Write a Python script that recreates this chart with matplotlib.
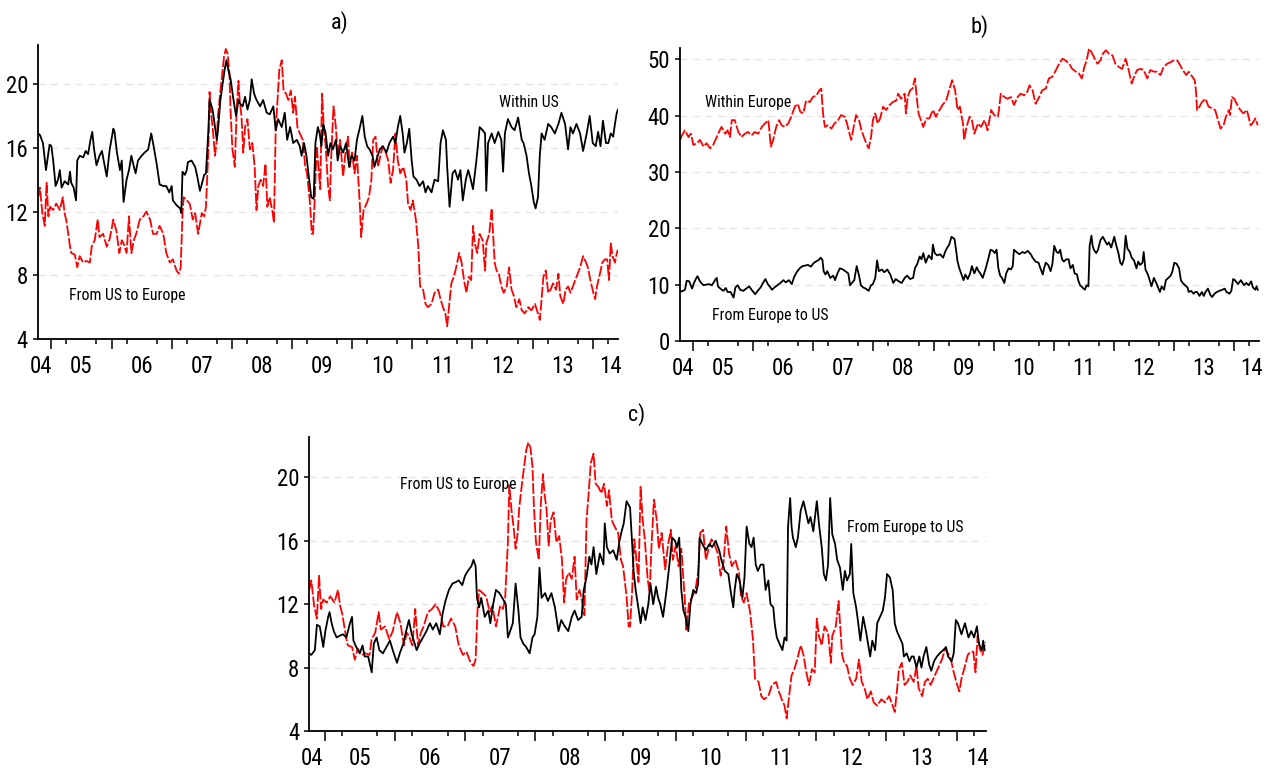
import matplotlib
matplotlib.use("Agg")
import matplotlib.pyplot as plt
from matplotlib import font_manager

# ---- data (decimal year, value) ----
# a) black: within US
wus_t = [2004.78, 2004.81, 2004.86, 2004.91, 2004.95, 2004.97, 2005.00, 2005.03, 2005.07, 2005.11,
         2005.14, 2005.17, 2005.22, 2005.28, 2005.31, 2005.33, 2005.37, 2005.41, 2005.43, 2005.47,
         2005.53, 2005.57, 2005.61, 2005.65, 2005.68, 2005.71, 2005.75, 2005.80, 2005.84, 2005.89,
         2005.92, 2005.97, 2006.03, 2006.05, 2006.09, 2006.14, 2006.17, 2006.20, 2006.25, 2006.29,
         2006.33, 2006.36, 2006.40, 2006.44, 2006.50, 2006.55, 2006.61, 2006.66, 2006.70, 2006.75,
         2006.80, 2006.86, 2006.91, 2006.96, 2007.00, 2007.02, 2007.08, 2007.14, 2007.16, 2007.18,
         2007.22, 2007.25, 2007.27, 2007.33, 2007.39, 2007.42, 2007.47, 2007.50, 2007.54, 2007.57,
         2007.61, 2007.63, 2007.68, 2007.72, 2007.75, 2007.77, 2007.81, 2007.85, 2007.88, 2007.91,
         2007.94, 2007.98, 2008.02, 2008.07, 2008.11, 2008.13, 2008.18, 2008.22, 2008.26, 2008.30,
         2008.33, 2008.37, 2008.41, 2008.47, 2008.52, 2008.58, 2008.63, 2008.69, 2008.73, 2008.77,
         2008.83, 2008.88, 2008.92, 2008.97, 2009.02, 2009.08, 2009.13, 2009.16, 2009.20, 2009.24,
         2009.32, 2009.36, 2009.39, 2009.43, 2009.46, 2009.49, 2009.52, 2009.56, 2009.60, 2009.64,
         2009.68, 2009.73, 2009.76, 2009.80, 2009.85, 2009.90, 2009.95, 2009.99, 2010.04, 2010.08,
         2010.13, 2010.17, 2010.21, 2010.25, 2010.29, 2010.34, 2010.37, 2010.40, 2010.46, 2010.51,
         2010.57, 2010.62, 2010.68, 2010.72, 2010.76, 2010.80, 2010.84, 2010.87, 2010.91, 2010.95,
         2010.99, 2011.02, 2011.07, 2011.12, 2011.18, 2011.22, 2011.26, 2011.32, 2011.37, 2011.43,
         2011.47, 2011.51, 2011.56, 2011.58, 2011.62, 2011.67, 2011.71, 2011.76, 2011.80, 2011.84,
         2011.89, 2011.93, 2011.96, 2012.01, 2012.06, 2012.09, 2012.12, 2012.17, 2012.21, 2012.23,
         2012.26, 2012.32, 2012.37, 2012.43, 2012.48, 2012.51, 2012.54, 2012.59, 2012.65, 2012.70,
         2012.76, 2012.82, 2012.85, 2012.90, 2012.94, 2012.98, 2013.02, 2013.05, 2013.09, 2013.12,
         2013.15, 2013.20, 2013.26, 2013.31, 2013.37, 2013.43, 2013.48, 2013.54, 2013.59, 2013.63,
         2013.67, 2013.73, 2013.79, 2013.84, 2013.90, 2013.95, 2014.00, 2014.05, 2014.09, 2014.13,
         2014.17, 2014.22, 2014.26, 2014.30, 2014.34, 2014.37, 2014.40, 2014.42]
wus_v = [16.9, 16.8, 16.3, 14.6, 15.7, 16.2, 16.1, 15.2, 13.6, 14.0,
         14.6, 13.5, 13.9, 13.7, 14.5, 13.8, 13.5, 12.7, 15.2, 15.5,
         15.4, 15.8, 15.6, 16.5, 17.0, 15.9, 14.9, 15.5, 15.8, 14.8,
         14.2, 15.9, 17.2, 17.0, 15.7, 14.6, 15.2, 12.6, 14.0, 14.6,
         15.5, 15.0, 14.4, 15.2, 15.5, 15.7, 15.9, 16.9, 16.1, 15.0,
         13.7, 13.6, 13.6, 13.2, 13.6, 12.7, 12.4, 12.2, 11.9, 14.5,
         14.3, 14.6, 15.1, 15.2, 14.8, 14.3, 13.3, 13.7, 14.3, 14.4,
         17.1, 19.0, 18.4, 17.3, 16.5, 17.1, 19.0, 20.1, 20.9, 21.5,
         20.9, 20.3, 19.2, 18.0, 19.0, 18.8, 18.6, 19.2, 18.4, 19.0,
         20.3, 19.4, 19.0, 18.6, 19.0, 18.2, 18.1, 18.6, 17.1, 17.8,
         17.3, 18.2, 16.5, 17.3, 16.3, 16.5, 16.1, 15.5, 16.3, 15.5,
         12.9, 12.8, 16.3, 17.3, 16.9, 16.1, 17.5, 16.9, 15.5, 16.3,
         15.9, 16.5, 15.2, 16.1, 15.7, 16.3, 14.8, 15.5, 15.2, 16.5,
         17.3, 18.0, 16.7, 16.1, 15.9, 15.5, 14.8, 15.2, 15.9, 16.1,
         15.7, 16.3, 16.7, 16.3, 17.3, 18.0, 16.9, 15.7, 16.3, 17.2,
         15.2, 14.2, 14.0, 13.6, 13.9, 13.2, 13.6, 13.2, 14.0, 13.9,
         16.3, 17.1, 16.5, 14.8, 12.3, 14.4, 14.6, 14.0, 14.6, 12.7,
         14.0, 14.6, 14.2, 13.4, 15.0, 16.1, 17.3, 17.1, 16.9, 13.3,
         16.3, 16.9, 16.3, 17.0, 16.5, 14.5, 16.9, 17.8, 17.3, 17.1,
         17.9, 16.5, 16.3, 15.5, 14.4, 13.6, 12.6, 12.2, 12.9, 15.5,
         16.9, 16.5, 17.5, 17.3, 16.9, 17.5, 18.2, 17.5, 15.9, 17.3,
         16.9, 17.5, 16.9, 15.8, 16.9, 18.0, 16.3, 16.1, 17.0, 16.1,
         17.7, 16.3, 16.3, 16.9, 16.7, 17.5, 18.2, 18.4]

# a) red, c) red: from US to Europe
use_t = [2004.78, 2004.81, 2004.85, 2004.89, 2004.92, 2004.95, 2004.98, 2005.03, 2005.08, 2005.14,
         2005.19, 2005.22, 2005.25, 2005.28, 2005.31, 2005.33, 2005.39, 2005.43, 2005.47, 2005.53,
         2005.58, 2005.64, 2005.67, 2005.72, 2005.77, 2005.80, 2005.86, 2005.92, 2005.97, 2006.03,
         2006.08, 2006.13, 2006.17, 2006.20, 2006.25, 2006.29, 2006.33, 2006.37, 2006.41, 2006.47,
         2006.53, 2006.58, 2006.64, 2006.69, 2006.75, 2006.80, 2006.86, 2006.91, 2006.97, 2007.02,
         2007.08, 2007.12, 2007.15, 2007.18, 2007.20, 2007.25, 2007.30, 2007.35, 2007.39, 2007.44,
         2007.50, 2007.54, 2007.57, 2007.61, 2007.63, 2007.66, 2007.69, 2007.72, 2007.75, 2007.77,
         2007.80, 2007.83, 2007.87, 2007.90, 2007.93, 2007.96, 2007.98, 2008.01, 2008.05, 2008.08,
         2008.11, 2008.13, 2008.16, 2008.19, 2008.22, 2008.26, 2008.30, 2008.34, 2008.38, 2008.41,
         2008.44, 2008.48, 2008.52, 2008.56, 2008.59, 2008.63, 2008.68, 2008.70, 2008.73, 2008.76,
         2008.79, 2008.83, 2008.86, 2008.90, 2008.94, 2008.98, 2009.02, 2009.05, 2009.09, 2009.13,
         2009.18, 2009.22, 2009.25, 2009.30, 2009.33, 2009.35, 2009.38, 2009.41, 2009.45, 2009.47,
         2009.50, 2009.53, 2009.56, 2009.60, 2009.63, 2009.65, 2009.69, 2009.73, 2009.76, 2009.80,
         2009.85, 2009.89, 2009.93, 2009.96, 2010.00, 2010.04, 2010.08, 2010.13, 2010.15, 2010.19,
         2010.24, 2010.28, 2010.32, 2010.35, 2010.39, 2010.43, 2010.47, 2010.51, 2010.56, 2010.60,
         2010.64, 2010.68, 2010.72, 2010.76, 2010.80, 2010.85, 2010.90, 2010.93, 2010.97, 2011.01,
         2011.06, 2011.10, 2011.13, 2011.18, 2011.22, 2011.26, 2011.32, 2011.37, 2011.43, 2011.47,
         2011.51, 2011.55, 2011.58, 2011.61, 2011.65, 2011.69, 2011.73, 2011.78, 2011.82, 2011.86,
         2011.90, 2011.94, 2011.98, 2012.01, 2012.04, 2012.08, 2012.12, 2012.17, 2012.21, 2012.23,
         2012.28, 2012.32, 2012.34, 2012.37, 2012.40, 2012.44, 2012.48, 2012.52, 2012.57, 2012.61,
         2012.65, 2012.69, 2012.73, 2012.78, 2012.82, 2012.87, 2012.93, 2012.98, 2013.04, 2013.09,
         2013.12, 2013.15, 2013.18, 2013.22, 2013.26, 2013.30, 2013.34, 2013.39, 2013.43, 2013.46,
         2013.51, 2013.55, 2013.59, 2013.63, 2013.67, 2013.73, 2013.79, 2013.84, 2013.89, 2013.92,
         2013.96, 2014.01, 2014.04, 2014.07, 2014.12, 2014.16, 2014.20, 2014.24, 2014.27, 2014.30,
         2014.33, 2014.37, 2014.40, 2014.42]
use_v = [12.9, 13.5, 11.9, 11.1, 13.8, 11.7, 12.3, 12.1, 12.5, 12.1,
         12.9, 11.9, 11.4, 10.6, 9.8, 9.4, 9.3, 8.5, 9.2, 8.8,
         8.9, 8.8, 9.8, 10.2, 11.5, 10.4, 10.6, 9.8, 10.3, 11.5,
         10.8, 9.4, 10.2, 10.0, 9.4, 11.7, 9.4, 10.2, 10.6, 11.5,
         11.7, 12.0, 11.5, 10.6, 10.6, 11.1, 10.6, 9.4, 8.8, 9.0,
         8.3, 8.1, 8.5, 11.9, 12.9, 12.7, 12.5, 11.5, 11.9, 10.6,
         11.9, 11.7, 12.3, 15.9, 19.5, 18.0, 16.9, 15.5, 16.5, 18.0,
         19.2, 20.3, 21.7, 22.2, 21.9, 20.7, 18.2, 15.9, 14.8, 18.4,
         20.2, 19.0, 18.0, 15.7, 17.3, 17.8, 15.9, 16.3, 14.8, 12.1,
         13.6, 14.0, 13.6, 15.0, 12.3, 12.9, 11.9, 11.3, 17.3, 19.0,
         20.9, 21.5, 19.6, 19.4, 19.0, 19.6, 18.2, 19.2, 17.3, 16.9,
         16.5, 14.8, 14.4, 12.5, 10.6, 10.6, 12.9, 16.1, 14.4, 13.4,
         19.4, 17.3, 16.1, 13.6, 12.7, 15.2, 18.6, 17.3, 15.5, 16.5,
         14.2, 15.7, 16.7, 14.8, 15.7, 14.4, 15.5, 12.3, 10.4, 12.1,
         12.5, 12.9, 14.0, 16.5, 16.7, 14.8, 15.5, 16.1, 15.7, 15.2,
         13.8, 14.6, 16.9, 15.2, 14.4, 14.8, 14.0, 12.5, 12.1, 12.7,
         11.5, 9.8, 7.3, 7.1, 6.2, 6.0, 6.2, 6.9, 7.1, 6.5,
         6.0, 5.6, 4.8, 6.0, 7.5, 7.9, 8.5, 9.4, 8.8, 7.7,
         6.9, 7.9, 7.7, 11.1, 10.0, 9.4, 10.6, 10.2, 8.3, 10.0,
         10.6, 12.2, 10.8, 8.8, 8.3, 8.1, 7.3, 6.9, 7.3, 8.5,
         7.1, 6.7, 6.0, 6.5, 5.8, 5.6, 6.0, 5.8, 6.2, 5.6,
         5.2, 6.5, 7.9, 8.3, 6.9, 7.1, 7.5, 7.1, 8.1, 6.7,
         6.2, 7.1, 7.3, 6.9, 7.3, 7.9, 8.5, 9.2, 8.8, 8.5,
         7.7, 6.9, 6.5, 7.3, 8.1, 8.8, 9.0, 9.0, 7.7, 10.0,
         9.2, 8.8, 9.4, 9.6]

# b) red: within Europe
weu_t = [2004.78, 2004.81, 2004.86, 2004.92, 2004.96, 2005.00, 2005.06, 2005.11, 2005.17, 2005.22,
         2005.28, 2005.33, 2005.39, 2005.44, 2005.47, 2005.53, 2005.57, 2005.61, 2005.64, 2005.69,
         2005.75, 2005.80, 2005.86, 2005.91, 2005.97, 2006.02, 2006.08, 2006.14, 2006.19, 2006.25,
         2006.29, 2006.33, 2006.38, 2006.43, 2006.47, 2006.52, 2006.58, 2006.63, 2006.69, 2006.74,
         2006.78, 2006.83, 2006.88, 2006.94, 2006.99, 2007.05, 2007.10, 2007.13, 2007.16, 2007.19,
         2007.24, 2007.30, 2007.35, 2007.41, 2007.46, 2007.52, 2007.56, 2007.60, 2007.63, 2007.67,
         2007.71, 2007.76, 2007.80, 2007.84, 2007.88, 2007.92, 2007.96, 2007.99, 2008.03, 2008.07,
         2008.11, 2008.16, 2008.21, 2008.27, 2008.32, 2008.38, 2008.41, 2008.46, 2008.52, 2008.54,
         2008.57, 2008.61, 2008.65, 2008.69, 2008.72, 2008.75, 2008.79, 2008.83, 2008.88, 2008.93,
         2008.99, 2009.04, 2009.10, 2009.15, 2009.21, 2009.26, 2009.31, 2009.36, 2009.40, 2009.44,
         2009.49, 2009.51, 2009.55, 2009.60, 2009.64, 2009.68, 2009.74, 2009.79, 2009.85, 2009.90,
         2009.96, 2010.01, 2010.07, 2010.09, 2010.12, 2010.18, 2010.23, 2010.29, 2010.34, 2010.40,
         2010.45, 2010.51, 2010.56, 2010.60, 2010.65, 2010.70, 2010.76, 2010.81, 2010.87, 2010.92,
         2010.98, 2011.04, 2011.09, 2011.15, 2011.20, 2011.26, 2011.31, 2011.37, 2011.42, 2011.47,
         2011.51, 2011.55, 2011.59, 2011.63, 2011.67, 2011.73, 2011.78, 2011.82, 2011.87, 2011.92,
         2011.98, 2012.03, 2012.09, 2012.14, 2012.20, 2012.25, 2012.30, 2012.34, 2012.39, 2012.45,
         2012.50, 2012.56, 2012.61, 2012.67, 2012.72, 2012.78, 2012.83, 2012.89, 2012.95, 2013.00,
         2013.06, 2013.11, 2013.17, 2013.21, 2013.25, 2013.31, 2013.35, 2013.37, 2013.39, 2013.43,
         2013.47, 2013.53, 2013.58, 2013.64, 2013.69, 2013.74, 2013.78, 2013.83, 2013.87, 2013.92,
         2013.94, 2013.97, 2014.01, 2014.05, 2014.11, 2014.16, 2014.22, 2014.28, 2014.31, 2014.36,
         2014.40]
weu_v = [35.7, 36.5, 37.4, 36.2, 36.8, 34.8, 35.1, 35.7, 34.5, 35.1,
         34.2, 34.8, 36.2, 37.4, 38.0, 36.8, 37.4, 36.2, 39.2, 39.2,
         37.1, 36.2, 36.8, 37.1, 36.5, 37.1, 36.8, 38.0, 38.6, 39.2,
         34.5, 35.7, 38.0, 39.2, 38.3, 38.0, 38.6, 39.8, 41.6, 42.1,
         40.7, 40.4, 42.7, 42.4, 43.3, 43.6, 44.5, 44.8, 40.4, 38.0,
         38.3, 37.7, 38.6, 39.2, 40.1, 39.8, 38.6, 36.8, 35.7, 38.0,
         40.1, 39.2, 37.4, 36.2, 35.1, 34.2, 36.2, 39.2, 40.4, 38.6,
         39.5, 41.6, 41.0, 41.9, 42.4, 42.7, 43.9, 43.0, 43.9, 40.4,
         43.3, 44.5, 44.8, 46.6, 43.3, 40.4, 39.2, 38.0, 39.5, 39.5,
         41.0, 39.8, 41.0, 41.9, 42.7, 44.5, 46.3, 44.5, 41.0, 41.6,
         38.6, 35.7, 38.0, 39.8, 39.2, 36.8, 38.6, 38.0, 39.2, 37.4,
         41.0, 40.1, 39.8, 41.0, 43.9, 43.3, 43.0, 43.3, 41.9, 43.3,
         43.9, 43.6, 44.2, 45.4, 44.5, 42.1, 43.3, 44.5, 44.8, 46.6,
         46.9, 48.1, 49.2, 50.1, 49.8, 49.2, 48.3, 47.8, 47.5, 46.6,
         48.6, 49.8, 51.9, 51.3, 50.4, 49.2, 49.8, 51.0, 51.6, 51.0,
         50.7, 49.2, 48.6, 48.3, 50.1, 48.1, 45.7, 46.9, 48.1, 48.3,
         48.1, 46.6, 48.1, 47.8, 47.8, 47.2, 48.6, 49.2, 49.5, 49.8,
         49.8, 48.9, 47.8, 47.2, 47.8, 46.9, 46.3, 44.5, 41.0, 41.6,
         42.4, 43.0, 41.6, 41.3, 41.0, 39.2, 37.7, 38.3, 39.8, 41.0,
         40.1, 43.3, 43.0, 42.1, 41.0, 40.4, 41.0, 38.3, 38.6, 39.5,
         38.3]

# b) black, c) black: from Europe to US
eus_t = [2004.78, 2004.81, 2004.86, 2004.89, 2004.93, 2004.95, 2004.98, 2005.01, 2005.05, 2005.07,
         2005.10, 2005.13, 2005.17, 2005.21, 2005.26, 2005.31, 2005.36, 2005.39, 2005.41, 2005.45,
         2005.50, 2005.54, 2005.57, 2005.62, 2005.67, 2005.70, 2005.74, 2005.78, 2005.83, 2005.88,
         2005.93, 2005.97, 2006.03, 2006.07, 2006.12, 2006.16, 2006.20, 2006.24, 2006.27, 2006.31,
         2006.35, 2006.40, 2006.45, 2006.50, 2006.54, 2006.59, 2006.64, 2006.68, 2006.72, 2006.77,
         2006.82, 2006.87, 2006.91, 2006.96, 2007.00, 2007.04, 2007.09, 2007.12, 2007.15, 2007.17,
         2007.20, 2007.23, 2007.28, 2007.33, 2007.36, 2007.40, 2007.44, 2007.49, 2007.53, 2007.58,
         2007.61, 2007.65, 2007.68, 2007.72, 2007.76, 2007.79, 2007.83, 2007.87, 2007.92, 2007.96,
         2007.99, 2008.03, 2008.06, 2008.09, 2008.14, 2008.18, 2008.23, 2008.28, 2008.33, 2008.37,
         2008.42, 2008.47, 2008.52, 2008.56, 2008.61, 2008.66, 2008.69, 2008.73, 2008.77, 2008.80,
         2008.83, 2008.87, 2008.92, 2008.97, 2008.99, 2009.02, 2009.06, 2009.11, 2009.16, 2009.20,
         2009.23, 2009.26, 2009.30, 2009.35, 2009.38, 2009.40, 2009.43, 2009.46, 2009.50, 2009.53,
         2009.57, 2009.61, 2009.64, 2009.68, 2009.72, 2009.75, 2009.78, 2009.82, 2009.87, 2009.91,
         2009.95, 2009.99, 2010.02, 2010.05, 2010.08, 2010.11, 2010.14, 2010.18, 2010.21, 2010.25,
         2010.29, 2010.32, 2010.34, 2010.38, 2010.43, 2010.48, 2010.52, 2010.57, 2010.62, 2010.65,
         2010.70, 2010.75, 2010.78, 2010.82, 2010.84, 2010.87, 2010.91, 2010.95, 2010.98, 2011.01,
         2011.05, 2011.08, 2011.11, 2011.14, 2011.17, 2011.21, 2011.25, 2011.28, 2011.32, 2011.35,
         2011.39, 2011.41, 2011.44, 2011.48, 2011.52, 2011.55, 2011.58, 2011.60, 2011.63, 2011.65,
         2011.67, 2011.71, 2011.74, 2011.78, 2011.82, 2011.85, 2011.89, 2011.92, 2011.96, 2012.01,
         2012.04, 2012.08, 2012.11, 2012.14, 2012.17, 2012.20, 2012.23, 2012.27, 2012.30, 2012.34,
         2012.38, 2012.41, 2012.44, 2012.48, 2012.50, 2012.53, 2012.57, 2012.60, 2012.63, 2012.67,
         2012.71, 2012.74, 2012.77, 2012.80, 2012.84, 2012.87, 2012.91, 2012.95, 2012.98, 2013.01,
         2013.05, 2013.09, 2013.12, 2013.15, 2013.19, 2013.23, 2013.25, 2013.29, 2013.33, 2013.36,
         2013.39, 2013.43, 2013.47, 2013.50, 2013.53, 2013.57, 2013.61, 2013.64, 2013.68, 2013.72,
         2013.76, 2013.81, 2013.85, 2013.88, 2013.93, 2013.96, 2013.99, 2014.02, 2014.07, 2014.12,
         2014.17, 2014.21, 2014.25, 2014.29, 2014.32, 2014.36, 2014.38, 2014.40]
eus_v = [8.9, 8.8, 9.1, 10.7, 10.6, 10.1, 9.3, 10.3, 11.2, 11.5,
         10.8, 10.3, 9.9, 10.0, 10.1, 9.9, 10.8, 11.2, 9.7, 9.3,
         8.9, 9.4, 8.7, 8.7, 7.7, 9.5, 9.9, 9.1, 8.9, 9.3,
         9.7, 9.1, 8.3, 8.9, 9.5, 10.3, 11.0, 10.1, 9.7, 9.1,
         9.5, 9.9, 10.3, 10.8, 10.4, 10.8, 10.1, 11.4, 12.2, 12.9,
         13.3, 13.4, 13.5, 13.2, 13.8, 14.1, 14.4, 14.8, 14.4, 12.4,
         11.8, 12.4, 11.2, 11.6, 10.8, 12.0, 12.9, 12.7, 12.4, 12.0,
         9.9, 10.4, 10.8, 13.3, 11.6, 9.9, 9.5, 9.3, 8.9, 9.9,
         10.1, 11.2, 14.3, 12.4, 12.7, 12.2, 12.7, 11.8, 10.3, 11.0,
         10.6, 10.3, 11.2, 11.6, 11.0, 11.2, 12.9, 13.7, 15.0, 14.5,
         15.6, 13.9, 15.2, 14.5, 17.1, 15.6, 15.2, 15.4, 14.8, 16.0,
         16.6, 17.1, 18.5, 18.1, 15.8, 14.1, 12.9, 12.0, 10.8, 11.8,
         11.0, 12.0, 13.3, 12.0, 13.1, 12.4, 12.0, 11.2, 12.9, 14.5,
         16.2, 16.0, 15.6, 16.2, 12.9, 11.6, 11.2, 10.3, 12.0, 12.9,
         12.7, 13.3, 16.2, 15.8, 15.4, 15.8, 15.6, 16.0, 15.4, 14.8,
         14.1, 13.9, 12.9, 11.8, 12.9, 13.9, 13.5, 12.4, 13.7, 16.9,
         15.8, 15.6, 16.2, 14.5, 14.1, 14.5, 14.5, 12.9, 13.5, 12.0,
         11.8, 10.8, 9.9, 9.5, 9.1, 9.9, 9.7, 16.9, 18.7, 16.9,
         16.2, 15.6, 16.2, 17.9, 18.5, 17.9, 17.1, 17.5, 16.6, 18.5,
         17.1, 15.6, 13.9, 13.5, 14.5, 18.7, 16.4, 15.8, 14.8, 14.3,
         12.9, 14.1, 13.5, 13.9, 15.8, 12.7, 11.8, 10.8, 9.7, 11.2,
         10.3, 9.5, 8.7, 9.7, 9.1, 10.8, 11.2, 11.6, 12.4, 13.9,
         13.7, 12.9, 10.8, 10.3, 9.9, 9.5, 8.7, 8.9, 8.4, 8.7,
         8.7, 8.0, 8.7, 8.0, 8.7, 9.3, 8.2, 7.8, 8.4, 8.7,
         8.9, 9.1, 9.3, 8.7, 8.4, 8.9, 11.0, 10.8, 10.1, 10.8,
         9.9, 10.3, 9.9, 10.6, 9.5, 9.1, 9.7, 9.1]

years = list(range(2005, 2015))
quarters = [y + q for y in range(2004, 2015) for q in (0.25, 0.5, 0.75)]
year_lab_pos = [2004.82, 2005.5, 2006.5, 2007.5, 2008.5, 2009.5, 2010.5,
                2011.5, 2012.5, 2013.5, 2014.3]
year_labels = ["04", "05", "06", "07", "08", "09", "10", "11", "12", "13", "14"]

# ---- style ----
names = {f.name for f in font_manager.fontManager.ttflist}
fam = "DejaVu Sans"
for cand in ["Liberation Sans Narrow", "Arial Narrow", "Roboto Condensed", "Pragati Narrow",
             "Archivo Narrow", "PT Sans Narrow", "IBM Plex Sans Condensed"]:
    if cand in names:
        fam = cand
        break
plt.rcParams["font.family"] = [fam, "DejaVu Sans"]

RED = "#ff0000"
XMIN, XMAX = 2004.777, 2014.42


def style_axis(ax, ylim, yticks):
    for s in ("top", "right"):
        ax.spines[s].set_visible(False)
    for s in ("left", "bottom"):
        ax.spines[s].set_linewidth(1.3)
    ax.set_yticks(yticks)
    ax.tick_params(axis="y", length=3.6, width=1.1, pad=3.5, labelsize=16.5)
    ax.yaxis.grid(True, color="#e4e4e4", linestyle=(0, (5, 4)), linewidth=1.0)
    ax.set_axisbelow(True)
    # quarter ticks on the main axis, labels centred in each year
    ax.set_xticks(year_lab_pos, year_labels)
    ax.set_xticks([q for q in quarters if XMIN < q < XMAX], minor=True)
    ax.tick_params(axis="x", which="major", length=0, pad=11.5, labelsize=16.5)
    ax.tick_params(axis="x", which="minor", length=3.6, width=1.1)
    # longer ticks at the year boundaries
    sec = ax.secondary_xaxis("bottom")
    sec.set_xticks(years)
    sec.tick_params(length=7.2, width=1.1, labelbottom=False)
    sec.spines["bottom"].set_visible(False)
    ax.set_xlim(XMIN, XMAX)
    ax.set_ylim(*ylim)


fig = plt.figure(figsize=(12.7, 7.71), dpi=100)
ax_a = fig.add_axes([0.0299, 0.5603, 0.4567, 0.3813])
ax_b = fig.add_axes([0.5354, 0.5577, 0.4559, 0.3800])
ax_c = fig.add_axes([0.2433, 0.0519, 0.5331, 0.3813])

dash = (0, (6, 1.2))
LBL = 11.4

# a)
ax_a.plot(use_t, use_v, color=RED, lw=1.3, linestyle=dash)
ax_a.plot(wus_t, wus_v, color="black", lw=1.3)
style_axis(ax_a, (4, 22.45), [4, 8, 12, 16, 20])
ax_a.text(2012.45, 18.87, "Within US", fontsize=LBL, va="center")
ax_a.text(2005.30, 6.76, "From US to Europe", fontsize=LBL, va="center")

# b)
ax_b.plot(weu_t, weu_v, color=RED, lw=1.3, linestyle=dash)
ax_b.plot(eus_t, eus_v, color="black", lw=1.3)
style_axis(ax_b, (0, 52), [0, 10, 20, 30, 40, 50])
ax_b.text(2005.19, 42.35, "Within Europe", fontsize=LBL, va="center")
ax_b.text(2005.31, 4.5, "From Europe to US", fontsize=LBL, va="center")

# c)
ax_c.plot(use_t, use_v, color=RED, lw=1.3, linestyle=dash)
ax_c.plot(eus_t, eus_v, color="black", lw=1.3)
style_axis(ax_c, (4, 22.55), [4, 8, 12, 16, 20])
ax_c.text(2006.07, 19.55, "From US to Europe", fontsize=LBL, va="center")
ax_c.text(2012.44, 16.87, "From Europe to US", fontsize=LBL, va="center")

fig.text(340 / 1270, 1 - 23 / 771, "a)", fontsize=16, ha="center", va="center")
fig.text(980 / 1270, 1 - 27 / 771, "b)", fontsize=16, ha="center", va="center")
fig.text(637 / 1270, 1 - 415 / 771, "c)", fontsize=16, ha="center", va="center")

fig.savefig("out.png", dpi=100)
